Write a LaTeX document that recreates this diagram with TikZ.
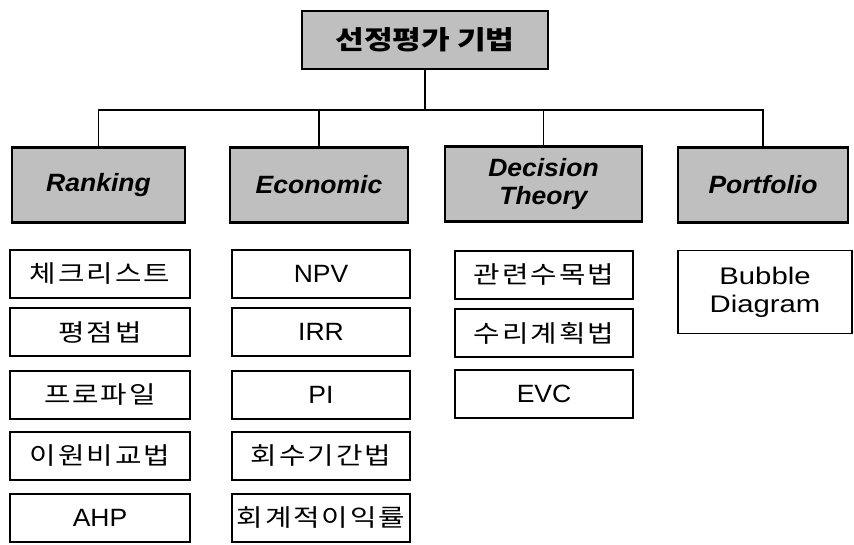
\documentclass[tikz,border=0pt]{standalone}
\usepackage{fontspec}
\setmainfont[FakeStretch=1.06]{Liberation Sans}
\newfontfamily\widelat[FakeStretch=1.22]{Liberation Sans}
\newfontfamily\kr[FakeStretch=1.2,LetterSpace=8]{Noto Sans CJK KR}
\newfontfamily\krtitle[FakeStretch=1.2]{Noto Sans CJK KR}
\begin{document}
\begin{tikzpicture}[x=1pt,y=-1pt,
  titlebox/.style={draw=black,line width=2.8pt,fill=black!25,minimum width=246pt,minimum height=58pt,inner sep=0pt,font=\krtitle\bfseries\fontsize{26}{30}\selectfont},
  catbox/.style={draw=black,line width=2.6pt,fill=black!25,minimum height=75pt,inner sep=0pt,align=center,font=\bfseries\itshape\fontsize{25}{28}\selectfont},
  itembox/.style={draw=black,line width=1.3pt,fill=white,minimum width=178pt,minimum height=48pt,inner sep=0pt,align=center,font=\fontsize{25}{28}\selectfont},
  krt/.style={font=\kr\fontsize{24}{27}\selectfont},
  conn/.style={draw=black,line width=1.3pt}]
\fill[white] (0,0) rectangle (854,545);
\useasboundingbox (0,0) rectangle (854,545);
\node[titlebox] (title) at (425,40) {선정평가 기법};
\node[catbox,minimum width=173pt] (rank) at (98.5,185) {Ranking};
\node[catbox,minimum width=178pt] (econ) at (319,185) {Economic};
\node[catbox,minimum width=197pt] (dec) at (543.5,184) {Decision\\Theory};
\node[catbox,minimum width=170pt] (port) at (763,185) {Portfolio};
\coordinate (bus) at (title.south |- 0,110);
\draw[conn] (title.south) -- (bus);
\draw[conn] (rank.north) |- (bus) -| (port.north);
\draw[conn] (econ.north) -- (econ.north |- bus);
\draw[conn] (dec.north) -- (dec.north |- bus);
% column 1
\node[itembox,krt,minimum width=180pt] (r1) at (100,274) {체크리스트};
\node[itembox,krt,minimum width=180pt] (r2) at (100,332) {평점법};
\node[itembox,krt,minimum width=180pt] (r3) at (100,395) {프로파일};
\node[itembox,krt,minimum width=180pt] (r4) at (100,456) {이원비교법};
\node[itembox,minimum width=180pt] (r5) at (100,518) {AHP};
% column 2
\node[itembox] (e1) at (321,274) {NPV};
\node[itembox] (e2) at (321,332) {IRR};
\node[itembox] (e3) at (321,395) {PI};
\node[itembox,krt] (e4) at (321,456) {회수기간법};
\node[itembox,krt] (e5) at (321,518) {회계적이익률};
% column 3
\node[itembox,krt] (d1) at (544,275) {관련수목법};
\node[itembox,krt] (d2) at (544,333) {수리계획법};
\node[itembox] (d3) at (544,394) {EVC};
% column 4
\node[itembox,minimum width=174pt,minimum height=83pt,font=\widelat\fontsize{24}{28}\selectfont] (p1) at (765,292) {Bubble\\Diagram};
\end{tikzpicture}
\end{document}
